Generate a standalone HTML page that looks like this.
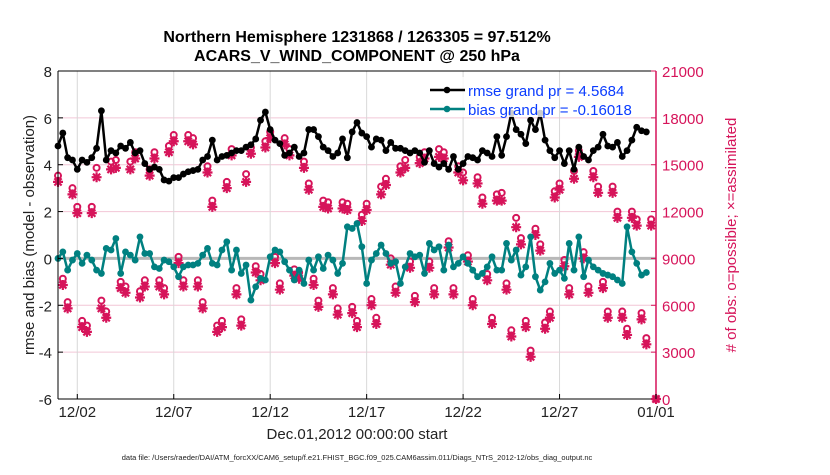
<!DOCTYPE html>
<html><head><meta charset="utf-8"><style>
body{margin:0;background:#fff;width:830px;height:470px;overflow:hidden;font-family:"Liberation Sans",sans-serif}
</style></head><body>
<svg id="chart" width="830" height="470" xmlns="http://www.w3.org/2000/svg" font-family="Liberation Sans, sans-serif"></svg>
<script>
const rmse=[4.8,5.35,4.3,4.2,3.8,4.2,4.1,4.3,4.7,6.3,4.2,4.6,4.5,4.8,4.7,4.95,4.5,4.6,4.05,3.8,3.9,3.8,3.35,3.3,3.45,3.45,3.6,3.7,3.75,3.8,
4.2,4.35,5.05,4.2,4.35,4.4,4.5,4.6,4.6,4.75,4.85,5.1,5.9,6.25,5.5,5.05,4.9,4.4,4.5,4.75,4.35,4.5,5.5,5.5,5.2,4.75,4.6,4.35,4.5,5.1,4.3,
5.4,5.8,5.35,5.2,4.75,5.1,5.05,4.6,4.95,4.7,4.7,4.6,4.5,4.6,4.5,4.1,4.6,4.05,3.9,4.05,3.8,4.35,3.8,4.05,4.35,4.3,4.2,4.6,4.5,4.35,5.2,
4.4,5.2,6.2,5.5,5.3,4.9,5.9,5.5,6.2,5.05,4.6,4.3,4.6,4.05,4.6,3.8,4.75,4.35,4.2,4.6,4.75,5.3,4.8,4.75,4.95,4.35,4.6,5.05,5.6,5.45,5.4];
const bias=[0,0.28,-0.5,-0.07,0.21,-0.21,0.14,-0.07,-0.5,-0.64,0.43,0.36,0.85,-0.64,0.28,0.14,-0.07,0.92,0.21,0.21,-0.36,-0.43,-0.07,-0.14,-0.36,-0.78,-0.36,-0.28,-0.28,-0.21,
0.14,0.43,-0.21,-0.28,0.36,0.71,-0.5,0.36,-0.64,-0.28,-1.78,-1.21,-0.85,-0.92,0.07,0.36,0.28,-0.14,-0.5,-0.92,-0.5,-1.07,-0.07,-0.5,0.07,-0.43,0.14,-0.07,-0.64,-0.21,1.35,
1.28,1.49,0.5,-1.07,-0.07,0.21,0.57,0.21,-0.21,-0.14,-1.07,-0.36,0.21,0.07,0.14,-0.64,0.64,0.36,0.5,-0.5,0.57,-0.36,-0.21,0.07,-0.21,-0.5,-0.78,-0.64,-0.36,0.07,-0.5,
-0.5,0.64,-0.07,0.36,-0.71,-0.36,0.92,-0.78,-1.35,-1.0,-0.21,-0.64,-0.5,-0.85,0.64,-0.5,0.92,-0.78,-0.07,-0.36,-0.5,-0.64,-0.71,-0.78,-0.92,-1.07,1.35,0.28,-0.21,-0.71,-0.6];
const obsAssim=[13900,7300,5800,13100,11900,4600,4300,11900,14200,5800,5200,14700,14800,7100,6800,14700,15400,6500,7200,14300,15400,7200,6700,15800,16500,8700,7200,16500,16300,7200,5800,14500,12300,4300,4600,13500,15600,6700,4700,13900,15700,8100,7600,16100,16700,8700,7000,16300,15600,7900,7700,14800,13400,7300,5900,12300,12200,6700,5400,12200,12100,5500,4600,11400,12100,6000,4800,13100,13700,8600,6800,14500,14800,8400,6200,15100,15400,8400,6700,15500,15400,9700,6700,14500,14000,8800,6000,13800,12500,7600,4800,12700,12700,7000,4000,11000,9900,4600,2700,10500,9500,4500,5200,12900,13400,8500,6700,14100,15500,9000,6800,14200,13200,7100,5200,13200,11600,5200,4100,11600,11100,5100,3500,11100,0];
const obsPossible=[14300,7700,6200,13500,12300,5000,4700,12300,14800,6300,5600,15200,15300,7500,7200,15200,15800,6900,7600,14700,15800,7600,7100,16200,16900,9100,7600,16900,16700,7600,6200,14900,12700,4700,5000,13900,16000,7100,5100,14400,16100,8500,8000,16500,17100,9100,7400,16700,16000,8300,8100,15200,13800,7700,6300,12700,12600,7100,5800,12600,12500,5900,5000,11800,12500,6400,5200,13600,14100,9000,7200,14900,15300,8800,6600,15500,15800,8800,7100,16000,15800,10100,7100,14900,14500,9200,6400,14200,12900,8000,5200,13100,13200,7400,4400,11600,10300,5000,3100,10900,9900,4900,5600,13300,13800,8900,7100,14600,15900,9400,7200,14600,13600,7500,5600,13600,12000,5600,4500,12000,11500,5500,3900,11500,0];
const leftTicks=[-6,-4,-2,0,2,4,6,8];
const rightTicks=[0,3000,6000,9000,12000,15000,18000,21000];
const dateTicks=[1,6,11,16,21,26,31];
const dateLabels=["12/02","12/07","12/12","12/17","12/22","12/27","01/01"];

const svg=document.getElementById('chart');
const NS='http://www.w3.org/2000/svg';
const L=58,R=656,T=71,B=399;
const xDay=d=>L+(d/31)*(R-L);
const xIdx=i=>xDay(i*0.25);
const yL=v=>B-(v+6)/14*(B-T);
const yR=v=>B-v/21000*(B-T);
function mk(tag,at,parent){const e=document.createElementNS(NS,tag);for(const k in at)e.setAttribute(k,at[k]);(parent||svg).appendChild(e);return e;}
function txt(s,at,parent){const e=mk('text',at,parent);e.textContent=s;return e;}

const grid=mk('g',{});


leftTicks.forEach(v=>{mk('line',{x1:L,x2:R,y1:yL(v),y2:yL(v),stroke:'#f2c6d6','stroke-width':1},grid);});
dateTicks.forEach(d=>{mk('line',{x1:xDay(d),x2:xDay(d),y1:T,y2:B,stroke:'#d8d8d8','stroke-width':1},grid);});
const zl=mk('line',{x1:L,x2:R,y1:yL(0),y2:yL(0),stroke:'#b8b8b8','stroke-width':3});



const pink='#d6145a';
const og=mk('g',{});


obsPossible.forEach((v,i)=>{const c=mk('circle',{cx:xIdx(i),cy:yR(v),r:3,fill:'none',stroke:pink,'stroke-width':2},og);

});
obsAssim.forEach((v,i)=>{const x=xIdx(i),y=yR(v);
const s=mk('path',{d:`M${x-5} ${y}H${x+5}M${x} ${y-5}V${y+5}M${x-3.6} ${y-3.6}L${x+3.6} ${y+3.6}M${x-3.6} ${y+3.6}L${x+3.6} ${y-3.6}`,stroke:pink,'stroke-width':2.2},og);

});

function series(arr,col,name){const g=mk('g',{});


mk('polyline',{points:arr.map((v,i)=>xIdx(i)+','+yL(v)).join(' '),fill:'none',stroke:col,'stroke-width':2.5,'stroke-linejoin':'round'},g);
arr.forEach((v,i)=>{const c=mk('circle',{cx:xIdx(i),cy:yL(v),r:3.4,fill:col},g);

});}
series(rmse,'#000','rmse-line');
series(bias,'#008080','bias-line');

mk('line',{x1:L,x2:R,y1:T,y2:T,stroke:'#000','stroke-width':1});
mk('line',{x1:L,x2:R,y1:B,y2:B,stroke:'#000','stroke-width':1});
mk('line',{x1:L,x2:L,y1:T,y2:B,stroke:'#000','stroke-width':1});
mk('line',{x1:R,x2:R,y1:T,y2:B,stroke:pink,'stroke-width':1.5});
leftTicks.forEach(v=>{mk('line',{x1:L,x2:L+5,y1:yL(v),y2:yL(v),stroke:'#000'});
const t=txt(v,{x:L-6,y:yL(v)+6,'text-anchor':'end','font-size':15,fill:'#222'});

});
rightTicks.forEach(v=>{mk('line',{x1:R-5,x2:R,y1:yR(v),y2:yR(v),stroke:pink});
const t=txt(v,{x:R+6,y:yR(v)+6,'font-size':15,fill:pink});

});
dateTicks.forEach((d,i)=>{mk('line',{x1:xDay(d),x2:xDay(d),y1:B,y2:B-5,stroke:'#000'});
const t=txt(dateLabels[i],{x:xDay(d),y:B+18,'text-anchor':'middle','font-size':15,fill:'#222'});

});
</script>
<svg width="830" height="470" style="position:absolute;left:0;top:0" font-family="Liberation Sans, sans-serif">
<text x="357" y="42" text-anchor="middle" font-size="16" font-weight="bold">Northern Hemisphere 1231868 / 1263305 = 97.512%</text>
<text x="357" y="61" text-anchor="middle" font-size="16" font-weight="bold">ACARS_V_WIND_COMPONENT @ 250 hPa</text>
<text x="357" y="439" text-anchor="middle" font-size="15" fill="#222">Dec.01,2012 00:00:00 start</text>
<text transform="translate(34,235) rotate(-90)" text-anchor="middle" font-size="15" fill="#222">rmse and bias (model - observation)</text>
<text transform="translate(736,235) rotate(-90)" text-anchor="middle" font-size="15" fill="#d6145a"># of obs: o=possible; ×=assimilated</text>
<text x="357" y="460" text-anchor="middle" font-size="7.5" fill="#222">data file: /Users/raeder/DAI/ATM_forcXX/CAM6_setup/f.e21.FHIST_BGC.f09_025.CAM6assim.011/Diags_NTrS_2012-12/obs_diag_output.nc</text>
<g>
<rect x="426" y="77" width="130" height="40" fill="#fff" fill-opacity="0.8"/>
<line x1="430" y1="90" x2="465" y2="90" stroke="#000" stroke-width="2.5"/><circle cx="447" cy="90" r="3.3" fill="#000"/>
<text x="468" y="96" font-size="15" fill="#0a3cff">rmse grand pr = 4.5684</text>
<line x1="430" y1="109" x2="465" y2="109" stroke="#008080" stroke-width="2.5"/><circle cx="447" cy="109" r="3.3" fill="#008080"/>
<text x="468" y="115" font-size="15" fill="#0a3cff">bias grand pr = -0.16018</text>
</g>
</svg>
</body></html>
